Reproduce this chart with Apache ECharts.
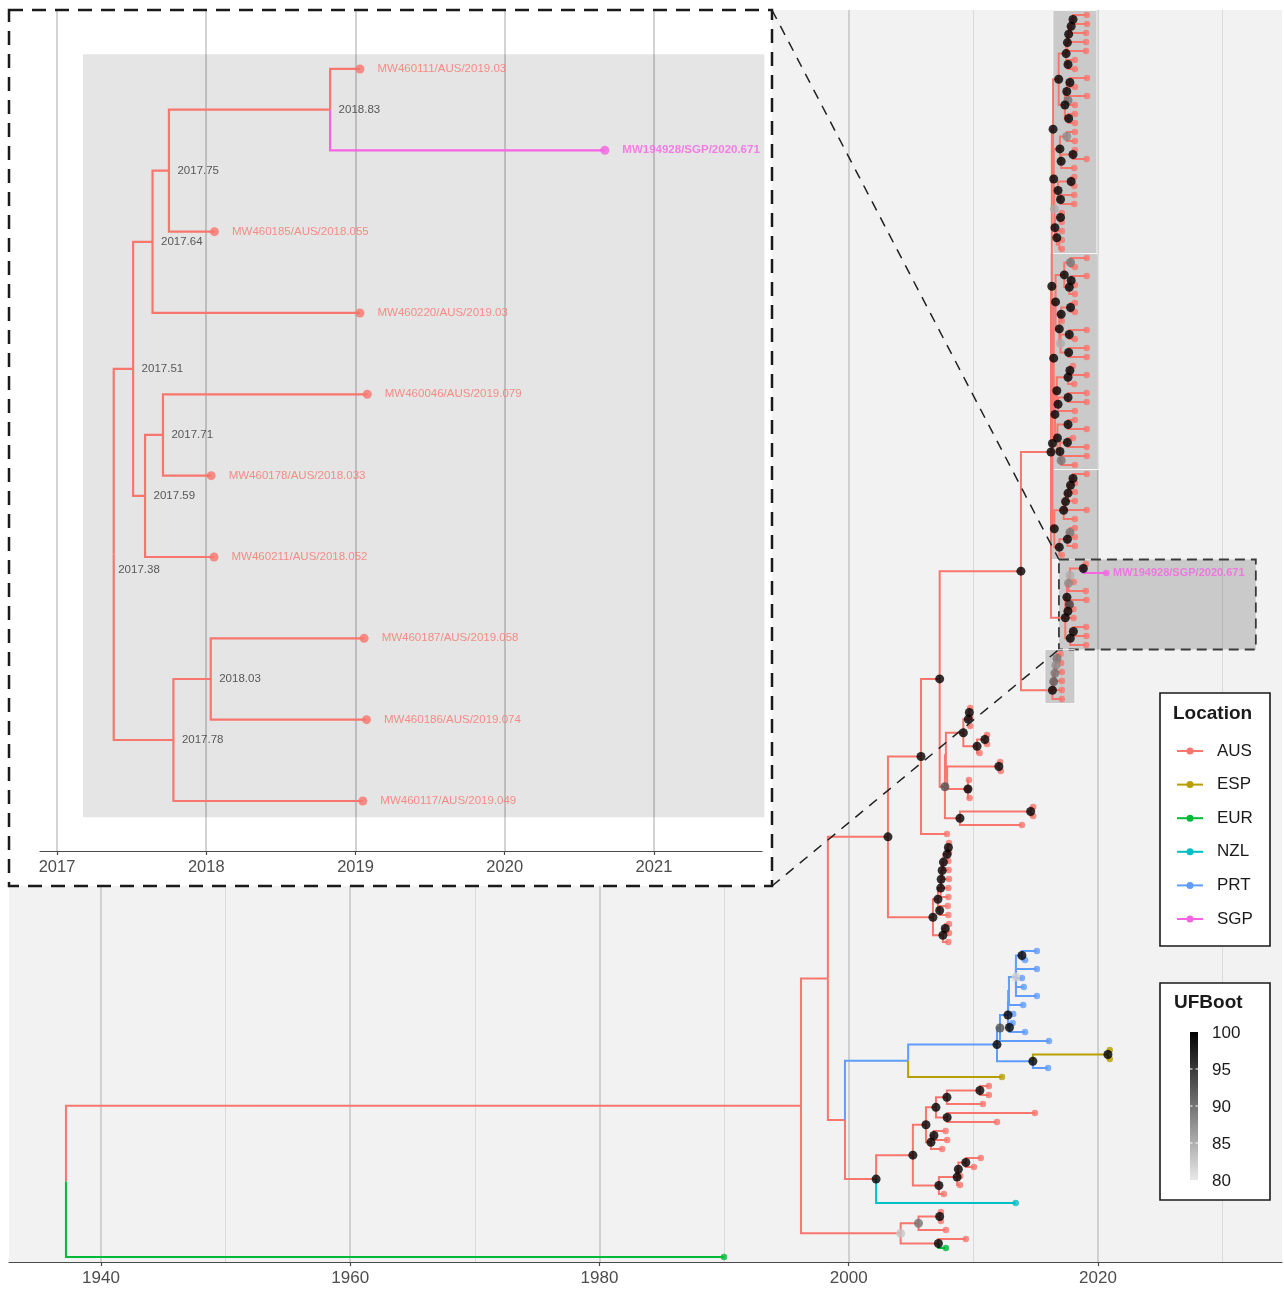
<!DOCTYPE html>
<html><head><meta charset="utf-8">
<script src="https://cdn.jsdelivr.net/npm/echarts/dist/echarts.min.js"></script>
<style>html,body{margin:0;padding:0;background:#fff}#c{width:1284px;height:1291px}</style>
</head><body><div id="c"></div>
<script>
// ---------------- DATA ----------------
const locations = ['AUS','ESP','EUR','NZL','PRT','SGP'];
const locColors = ['#F8766D','#B79F00','#00BA38','#00BFC4','#619CFF','#F564E3'];
const mainTicks = [1940,1960,1980,2000,2020];
const insetTicks = [2017,2018,2019,2020,2021];
const ufbootTicks = [100,95,90,85,80];

// tree helpers: t(date, location, name) = tip ; n(date, UFBoot, children, location) = internal node
function t(d, l, name){ return {d:d, l:l||'AUS', name:name}; }
function n(d, s, kids, l){ return {d:d, s:s, l:l||'AUS', kids:kids}; }

const cladeA = n(2016.40,100,[
  n(2016.85,100,[
    n(2017.45,100,[
      n(2017.55,100,[ n(2017.65,100,[ n(2017.85,100,[ n(2018.0,100,[t(2019.10),t(2019.12)]), t(2019.05)]), t(2019.05)]), t(2019.04)]),
      n(2017.60,100,[t(2018.15),t(2018.15)])
    ]),
    n(2017.35,100,[
      n(2017.50,100,[ n(2017.75,100,[t(2019.12),t(2018.15)]), n(2017.60,90,[t(2019.12),t(2018.15)]) ]),
      n(2017.65,100,[t(2018.15),t(2018.15)])
    ])
  ]),
  n(2016.45,100,[
    n(2016.95,100,[ n(2017.50,88,[t(2018.15),t(2018.15)]), n(2017.05,100,[ n(2018.0,100,[t(2018.15),t(2019.10)]), t(2018.10)]) ]),
    n(2016.50,85,[
      n(2016.80,100,[ n(2017.85,100,[t(2018.10),t(2018.10)]), n(2017.0,100,[t(2018.10),t(2018.10)]) ]),
      n(2016.55,100,[ n(2017.0,100,[t(2017.10),t(2017.10)]), n(2016.70,100,[t(2017.10), n(2016.90,null,[t(2017.10),t(2017.10)])]) ])
    ])
  ])
]);
const cladeB = n(2016.45,100,[
  n(2016.60,100,[
    n(2017.30,100,[ n(2017.80,90,[t(2019.10),t(2018.15)]), n(2017.70,100,[ n(2017.85,100,[t(2019.10),t(2018.15)]), t(2018.15)]) ]),
    n(2016.90,100,[ n(2017.05,100,[ n(2017.80,100,[t(2018.15),t(2018.15)]), t(2017.10)]), n(2017.0,85,[ n(2017.70,100,[t(2019.10),t(2018.15)]), n(2017.65,100,[t(2019.10),t(2019.10)]) ]) ])
  ]),
  n(2016.55,100,[
    n(2016.70,100,[ n(2017.60,100,[ n(2017.75,100,[t(2018.0),t(2019.10)]), t(2018.10)]), n(2016.80,100,[ n(2017.60,100,[t(2019.10),t(2019.10)]), t(2018.15)]) ]),
    n(2016.75,100,[ n(2017.60,100,[t(2018.15),t(2019.10)]), n(2016.95,100,[ n(2017.55,100,[t(2018.0),t(2019.10)]), n(2017.05,90,[t(2019.10),t(2018.15)]) ]) ])
  ])
]);
const cladeC = n(2016.50,100,[
  n(2017.25,100,[ n(2017.40,100,[ n(2017.60,100,[ n(2017.80,100,[ n(2018.0,100,[t(2019.10),t(2018.15)]), t(2018.15)]), t(2018.15)]), t(2019.10)]), t(2018.15)]),
  n(2016.90,100,[ n(2017.55,100,[ n(2017.75,90,[t(2018.15),t(2018.15)]), t(2018.15)]), t(2017.10)])
]);
const cladeD = n(2017.38,100,[
  n(2017.51,100,[
    n(2017.64,88,[
      n(2017.75,85,[
        n(2018.83,100,[t(2019.03,'AUS','MW460111'), t(2020.671,'SGP','MW194928')]),
        t(2018.055,'AUS','MW460185')
      ]),
      t(2019.03,'AUS','MW460220')
    ]),
    n(2017.59,100,[
      n(2017.71,95,[t(2019.079,'AUS','MW460046'), t(2018.033,'AUS','MW460178')]),
      t(2018.052,'AUS','MW460211')
    ])
  ]),
  n(2017.78,100,[
    n(2018.03,100,[t(2019.058,'AUS','MW460187'), t(2019.074,'AUS','MW460186')]),
    t(2019.049,'AUS','MW460117')
  ])
]);
const cladeE = n(2016.35,100,[ n(2016.45,92,[ n(2016.55,90,[ n(2016.63,88,[ n(2016.71,90,[t(2017.0),t(2017.05)]), t(2017.10)]), t(2017.10)]), t(2017.10)]), t(2017.10)]);
const cladeMid = n(2007.72,93,[
  n(2007.80,null,[
    n(2009.20,100,[ n(2009.60,100,[ n(2009.68,100,[t(2009.75),t(2009.75)]), t(2009.75)]), n(2010.30,100,[ n(2010.93,100,[t(2011.10),t(2011.10)]), t(2010.50)]) ]),
    n(2007.90,null,[ n(2012.05,100,[t(2012.15),t(2012.20)]), n(2009.57,100,[t(2009.65),t(2009.57),t(2009.70)]) ])
  ]),
  n(2008.93,100,[ n(2014.60,100,[t(2014.80),t(2014.80)]), t(2013.90)])
]);
const cladeX933 = n(2006.76,100,[
  n(2007.16,100,[
    n(2007.38,100,[ n(2007.42,100,[ n(2007.50,100,[ n(2007.60,100,[ n(2007.90,100,[ n(2008.0,100,[t(2008.05),t(2008.05)]), t(2008.0)]), t(2008.02)]), t(2008.05)]), t(2008.0)]), t(2008.0)]),
    n(2007.30,100,[t(2007.95),t(2008.0)])
  ]),
  n(2007.56,100,[ n(2007.75,100,[t(2008.05),t(2008.05)]), t(2008.0)])
]);
const cladePRT = n(2011.90,100,[
  n(2012.14,93,[
    n(2012.78,100,[
      n(2012.80,null,[
        n(2012.86,null,[
          n(2013.42,82,[ n(2013.90,100,[t(2015.10,'PRT'),t(2014.15,'PRT')],'PRT'), t(2015.10,'PRT'), t(2013.90,'PRT'), t(2014.05,'PRT'), t(2015.10,'PRT') ],'PRT'),
          t(2014.0,'PRT')
        ],'PRT'),
        t(2013.20,'PRT')
      ],'PRT'),
      n(2012.90,100,[t(2013.15,'PRT'),t(2014.15,'PRT')],'PRT')
    ],'PRT'),
    t(2016.07,'PRT')
  ],'PRT'),
  n(2014.78,100,[ n(2020.80,100,[t(2020.95,'ESP'),t(2020.95,'ESP')],'ESP'), t(2016.0,'PRT') ],'PRT')
],'PRT');
const cladeS = n(2005.15,100,[
  n(2006.20,100,[
    n(2007.0,100,[
      n(2007.88,100,[ n(2010.53,100,[t(2011.25),t(2011.25)]), t(2010.77)]),
      n(2007.90,100,[ t(2014.94), t(2011.90)])
    ]),
    n(2006.60,100,[ n(2006.84,100,[t(2007.78),t(2007.90)]), t(2007.50)])
  ]),
  n(2007.24,100,[ n(2008.70,100,[ n(2008.80,100,[ n(2009.40,100,[t(2010.60),t(2010.05)]), t(2008.95)]), t(2008.93)]), t(2007.64)])
]);

const treeRoot = n(1937.19,null,[
  n(1996.17,null,[
    n(1998.33,null,[
      n(2003.15,100,[
        n(2005.80,100,[
          n(2007.30,100,[
            n(2013.82,100,[ n(2016.23,100,[ n(2016.30,100,[cladeA, n(2016.35,100,[cladeB, cladeC])]), cladeD ]), cladeE ]),
            cladeMid
          ]),
          t(2007.88)
        ]),
        cladeX933
      ]),
      n(1999.70,null,[
        n(2004.77,null,[cladePRT, t(2012.30,'ESP')],'PRT'),
        n(2002.20,100,[cladeS, t(2013.40,'NZL')])
      ])
    ]),
    n(2004.17,83,[
      n(2005.60,90,[ n(2007.30,100,[t(2007.40),t(2007.40)]), t(2007.80)]),
      n(2007.20,100,[t(2009.40), t(2007.80,'EUR')])
    ])
  ]),
  t(1989.99,'EUR')
]);

// highlighted clades (x extents in years)
const hlClades = [cladeA, cladeB, cladeC, cladeD, cladeE];
const hlXmin = [2016.39, 2016.15, 2016.15, 2016.87, 2015.75];
const hlXmax = [2019.92, 2020.00, 2020.08, 2032.67, 2018.15];
const hlDashed = [0,0,0,1,0];
const insetHl = [2017.174, 2021.74, -0.18, 9.2];

// ---------------- LAYOUT ----------------
const insetRoot = JSON.parse(JSON.stringify(cladeD));
function layoutTree(root){
  const tips=[], inner=[], segs=[]; let k=0;
  (function walk(nd){
    if(!nd.kids){ nd.y=k++; tips.push(nd); return; }
    nd.kids.forEach(walk);
    nd.y = nd.kids.reduce((a,c)=>a+c.y,0)/nd.kids.length;
    inner.push(nd);
  })(root);
  (function seg(nd){
    if(!nd.kids) return;
    nd.kids.forEach(c=>{ segs.push([nd.d, nd.y, c.y, c.d, locations.indexOf(c.l)]); seg(c); });
  })(root);
  return {tips, inner, segs, count:k, root};
}
function tipRange(nd){ if(!nd.kids) return [nd.y,nd.y]; const r=nd.kids.map(tipRange); return [Math.min(...r.map(a=>a[0])), Math.max(...r.map(a=>a[1]))]; }

const M = layoutTree(treeRoot);
const I = layoutTree(insetRoot);
const N = M.count;
const FONT = '"Liberation Sans", Arial, Helvetica, sans-serif';
const col = l => locColors[locations.indexOf(l)];

const hlData = hlClades.map((c,i)=>{ const r=tipRange(c); return [hlXmin[i], hlXmax[i], r[0]-0.5, r[1]+0.5, hlDashed[i]]; });

const mainTips = M.tips.map(tp=>{
  const it = {value:[tp.d, tp.y], itemStyle:{color:col(tp.l)}};
  if(tp.l==='SGP'){ it.label={show:true, position:'right', distance:3.5, formatter: tp.name+'/'+tp.l+'/'+tp.d, color:col(tp.l), fontWeight:'bold', fontSize:11, fontFamily:FONT}; }
  return it;
});
const mainInner = M.inner.filter(nd=>nd.s!=null).map(nd=>[nd.d, nd.y, nd.s]);

const insetTips = I.tips.map(tp=>({value:[tp.d, tp.y], itemStyle:{color:col(tp.l)},
  label:{show:true, position:'right', distance:13, formatter: tp.name+'/'+tp.l+'/'+tp.d, color:col(tp.l), fontSize:11.5, fontFamily:FONT, fontWeight: tp.l==='SGP'?'bold':'normal'}}));
const insetNodeLabels = I.inner.map(nd=>{
  const it = {value:[nd.d, nd.y], label:{formatter: nd.d.toFixed(2)}};
  if(nd===I.root) it.label.offset=[-4,15];
  return it;
});

function branchItem(width){
  return function(p, api){
    const p0=api.coord([api.value(0),api.value(1)]), p1=api.coord([api.value(0),api.value(2)]), p2=api.coord([api.value(3),api.value(2)]);
    return {type:'polyline', shape:{points:[p0,p1,p2]}, style:{stroke:locColors[api.value(4)], lineWidth:width, fill:'none', lineJoin:'miter'}};
  };
}
function rectItem(p, api){
  const a=api.coord([api.value(0),api.value(2)]), b=api.coord([api.value(1),api.value(3)]);
  const dashed = api.value(4)===1;
  return {type:'rect', shape:{x:a[0], y:a[1], width:b[0]-a[0], height:b[1]-a[1]},
    style:{fill:'rgba(0,0,0,0.165)', stroke: dashed?'#3a3a3a':'rgba(255,255,255,0.75)', lineWidth: dashed?1.8:1, lineDash: dashed?[10,6]:null}};
}
function insetRectItem(p, api){
  const a=api.coord([api.value(0),api.value(2)]), b=api.coord([api.value(1),api.value(3)]);
  return {type:'rect', shape:{x:a[0], y:a[1], width:b[0]-a[0], height:b[1]-a[1]}, style:{fill:'rgba(0,0,0,0.1)'}};
}
const yearFmt = v => String(Math.round(v));

const chart = echarts.init(document.getElementById('c'));
chart.setOption({
  animation:false,
  grid:[
    {left:9, top:10, width:1273, height:1252, show:true, backgroundColor:'#f2f2f2', borderWidth:0},
    {left:40, top:10, width:722, height:841, show:false}
  ],
  xAxis:[
    {type:'value', gridIndex:0, min:1932.62, max:2034.77, minInterval:20, maxInterval:20, z:0,
     axisLine:{show:true, onZero:false, lineStyle:{color:'#4a4a4a', width:1.2}},
     axisTick:{show:true, customValues:mainTicks, length:4, lineStyle:{color:'#4a4a4a', width:1.2}},
     axisLabel:{customValues:mainTicks, formatter:yearFmt, fontSize:17, color:'#4d4d4d', margin:8, fontFamily:FONT},
     splitLine:{show:true, lineStyle:{color:'#c4c4c4', width:1.5}},
     minorTick:{show:false, splitNumber:2},
     minorSplitLine:{show:true, lineStyle:{color:'#dadada', width:1}}},
    {type:'value', gridIndex:1, min:2016.886, max:2021.724, minInterval:1, maxInterval:1, z:60,
     axisLine:{show:true, onZero:false, lineStyle:{color:'#4a4a4a', width:1.2}},
     axisTick:{show:true, customValues:insetTicks, length:4, lineStyle:{color:'#4a4a4a', width:1.2}},
     axisLabel:{customValues:insetTicks, formatter:yearFmt, fontSize:16.5, color:'#4d4d4d', margin:8, fontFamily:FONT},
     splitLine:{show:true, lineStyle:{color:'#c4c4c4', width:1.5}}}
  ],
  yAxis:[
    {type:'value', gridIndex:0, min:-0.56, max:N-1+0.56, inverse:true, show:false},
    {type:'value', gridIndex:1, min:-0.725, max:9.615, inverse:true, show:false}
  ],
  visualMap:[{type:'continuous', show:false, seriesIndex:3, dimension:2, min:80, max:100, inRange:{color:['#e8e8e8','#000000']}}],
  series:[
    {type:'custom', xAxisIndex:0, yAxisIndex:0, z:1, silent:true, renderItem:rectItem, data:hlData, encode:{x:[0,1], y:[2,3]}},
    {type:'custom', xAxisIndex:0, yAxisIndex:0, z:3, silent:true, renderItem:branchItem(2), data:M.segs, encode:{x:[0,3], y:[1,2]}},
    {type:'scatter', xAxisIndex:0, yAxisIndex:0, z:4, silent:true, symbolSize:6.5, data:mainTips},
    {type:'scatter', xAxisIndex:0, yAxisIndex:0, z:5, silent:true, symbolSize:9, data:mainInner},
    {type:'custom', xAxisIndex:1, yAxisIndex:1, z:61, silent:true, renderItem:insetRectItem, data:[insetHl], encode:{x:[0,1], y:[2,3]}},
    {type:'custom', xAxisIndex:1, yAxisIndex:1, z:62, silent:true, renderItem:branchItem(2.2), data:I.segs, encode:{x:[0,3], y:[1,2]}},
    {type:'scatter', xAxisIndex:1, yAxisIndex:1, z:63, silent:true, symbolSize:9, data:insetTips},
    {type:'scatter', xAxisIndex:1, yAxisIndex:1, z:63, silent:true, symbolSize:1, itemStyle:{color:'rgba(0,0,0,0)'},
     label:{show:true, position:'right', distance:8, color:'#333', fontSize:11.5, fontFamily:FONT}, data:insetNodeLabels}
  ]
});

// ---------------- GRAPHICS (inset frame, connectors, legends) ----------------
const dHl = hlData[3];
const pTL = chart.convertToPixel({gridIndex:0}, [dHl[0], dHl[2]]);
const pBL = chart.convertToPixel({gridIndex:0}, [dHl[0], dHl[3]]);
const inset = {x0:9, y0:10, x1:772, y1:886};
const els = [];
els.push({type:'rect', z:50, silent:true, shape:{x:inset.x0, y:inset.y0, width:inset.x1-inset.x0, height:inset.y1-inset.y0}, style:{fill:'#ffffff'}});
els.push({type:'line', z:55, silent:true, shape:{x1:inset.x1, y1:inset.y0, x2:pTL[0], y2:pTL[1]}, style:{stroke:'#222', lineWidth:1.5, lineDash:[10,8]}});
els.push({type:'line', z:55, silent:true, shape:{x1:inset.x1, y1:inset.y1, x2:pBL[0], y2:pBL[1]}, style:{stroke:'#222', lineWidth:1.5, lineDash:[10,8]}});
els.push({type:'rect', z:80, silent:true, shape:{x:inset.x0, y:inset.y0, width:inset.x1-inset.x0, height:inset.y1-inset.y0}, style:{fill:'none', stroke:'#1a1a1a', lineWidth:2.5, lineDash:[14,9]}});

// Location legend
const L = {x:1160, y:693, w:110, h:253};
els.push({type:'rect', z:70, silent:true, shape:{x:L.x, y:L.y, width:L.w, height:L.h}, style:{fill:'#fff', stroke:'#1a1a1a', lineWidth:1.6}});
els.push({type:'text', z:71, silent:true, x:L.x+13, y:L.y+21, style:{text:'Location', font:'bold 19px '+FONT, fill:'#1a1a1a', verticalAlign:'middle', textVerticalAlign:'middle'}});
locations.forEach((loc,i)=>{
  const yy = L.y + 58 + i*33.6;
  els.push({type:'line', z:71, silent:true, shape:{x1:L.x+17, y1:yy, x2:L.x+43, y2:yy}, style:{stroke:locColors[i], lineWidth:2}});
  els.push({type:'circle', z:72, silent:true, shape:{cx:L.x+30, cy:yy, r:3.5}, style:{fill:locColors[i]}});
  els.push({type:'text', z:71, silent:true, x:L.x+57, y:yy, style:{text:loc, font:'17px '+FONT, fill:'#1a1a1a', verticalAlign:'middle', textVerticalAlign:'middle'}});
});

// UFBoot legend
const U = {x:1160, y:983, w:110, h:217};
const bar = {x:1190, y:1032, w:8, h:148};
els.push({type:'rect', z:70, silent:true, shape:{x:U.x, y:U.y, width:U.w, height:U.h}, style:{fill:'#fff', stroke:'#1a1a1a', lineWidth:1.6}});
els.push({type:'text', z:71, silent:true, x:U.x+14, y:U.y+20, style:{text:'UFBoot', font:'bold 19px '+FONT, fill:'#1a1a1a', verticalAlign:'middle', textVerticalAlign:'middle'}});
els.push({type:'rect', z:71, silent:true, shape:{x:bar.x, y:bar.y, width:bar.w, height:bar.h},
  style:{fill:{type:'linear', x:0, y:0, x2:0, y2:1, colorStops:[{offset:0,color:'#000000'},{offset:1,color:'#e8e8e8'}]}}});
ufbootTicks.forEach(v=>{
  const yy = bar.y + (100-v)/20*bar.h;
  if(v<100 && v>80){
    els.push({type:'line', z:72, silent:true, shape:{x1:bar.x, y1:yy, x2:bar.x+2.5, y2:yy}, style:{stroke:'#fff', lineWidth:1}});
    els.push({type:'line', z:72, silent:true, shape:{x1:bar.x+bar.w-2.5, y1:yy, x2:bar.x+bar.w, y2:yy}, style:{stroke:'#fff', lineWidth:1}});
  }
  els.push({type:'text', z:71, silent:true, x:1212, y:yy+1, style:{text:String(v), font:'17px '+FONT, fill:'#1a1a1a', verticalAlign:'middle', textVerticalAlign:'middle'}});
});

chart.setOption({graphic:{elements:els}});
</script>
</body></html>
